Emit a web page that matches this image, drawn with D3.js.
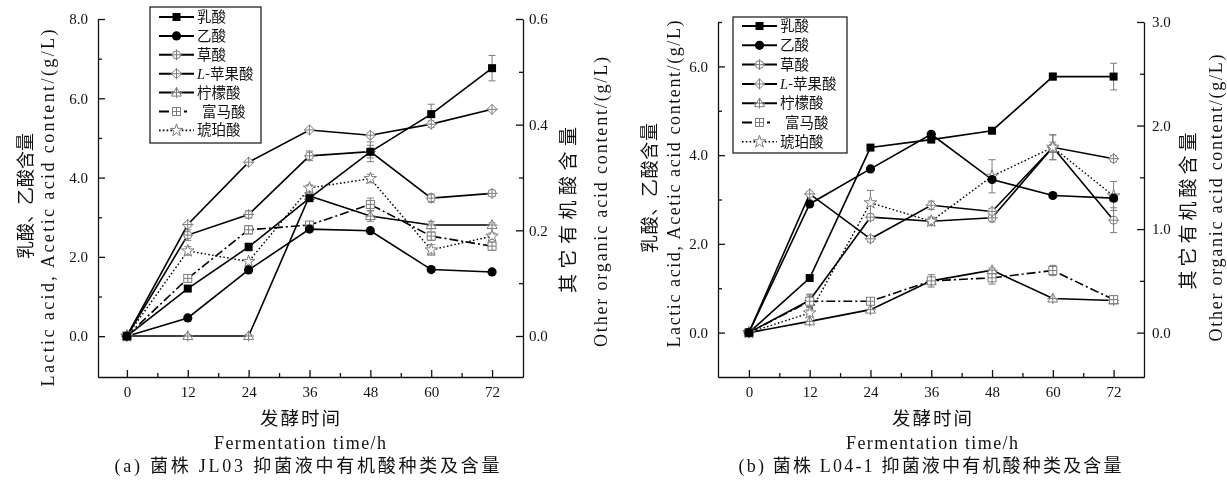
<!DOCTYPE html>
<html><head><meta charset="utf-8">
<script src="https://cdn.jsdelivr.net/npm/d3@7"></script>
<style>
body{margin:0;background:#fff}
svg{display:block;filter:grayscale(100%)}
text{font-family:'Liberation Serif','Noto Sans CJK SC',serif;fill:#111}
.cjk{font-family:'Noto Sans CJK SC',sans-serif}
</style>
</head><body><svg id="c" width="1227" height="490"></svg>
<script>
// ---------- data ----------
const times = [0, 12, 24, 36, 48, 60, 72];
const seriesNames = ["乳酸", "乙酸", "草酸", "L-苹果酸", "柠檬酸", "富马酸", "琥珀酸"];

// panel (a) strain JL03 — lactic & acetic on left axis (g/L), others on right axis
const aLactic      = [0, 1.20, 2.25, 3.48, 4.65, 5.60, 6.76];
const aLacticErr   = [0, 0.05, 0.10, 0.05, 0.25, 0.25, 0.32];
const aAcetic      = [0, 0.46, 1.67, 2.70, 2.66, 1.68, 1.62];
const aAceticErr   = [0, 0.02, 0.03, 0.03, 0.03, 0.03, 0.03];
const aOxalic      = [0, 0.191, 0.230, 0.341, 0.349, 0.261, 0.270];
const aOxalicErr   = [0, 0.010, 0.007, 0.009, 0.012, 0.008, 0.006];
const aMalic       = [0, 0.211, 0.329, 0.390, 0.380, 0.401, 0.429];
const aMalicErr    = [0, 0.004, 0.003, 0.003, 0.004, 0.006, 0.003];
const aCitric      = [0, 0, 0, 0.265, 0.227, 0.210, 0.210];
const aCitricErr   = [0, 0.003, 0.003, 0.005, 0.010, 0.007, 0.004];
const aFumaric     = [0, 0.109, 0.201, 0.210, 0.249, 0.189, 0.170];
const aFumaricErr  = [0, 0.006, 0.008, 0.006, 0.012, 0.008, 0.008];
const aSuccinic    = [0, 0.161, 0.141, 0.280, 0.298, 0.163, 0.189];
const aSuccinicErr = [0, 0.008, 0.004, 0.006, 0.008, 0.010, 0.006];

// panel (b) strain L04-1
const bLactic      = [0, 1.23, 4.17, 4.35, 4.55, 5.77, 5.77];
const bLacticErr   = [0, 0.03, 0.03, 0.04, 0.06, 0.08, 0.30];
const bAcetic      = [0, 2.90, 3.69, 4.47, 3.45, 3.09, 3.03];
const bAceticErr   = [0, 0.03, 0.03, 0.03, 0.03, 0.03, 0.03];
const bOxalic      = [0, 0.312, 1.115, 1.076, 1.109, 1.79, 1.086];
const bOxalicErr   = [0, 0.06, 0.03, 0.04, 0.04, 0.12, 0.12];
const bMalic       = [0, 1.34, 0.906, 1.23, 1.17, 1.79, 1.68];
const bMalicErr    = [0, 0.02, 0.03, 0.04, 0.03, 0.12, 0.03];
const bCitric      = [0, 0.109, 0.222, 0.50, 0.603, 0.329, 0.310];
const bCitricErr   = [0, 0.01, 0.01, 0.02, 0.02, 0.01, 0.01];
const bFumaric     = [0, 0.303, 0.303, 0.50, 0.529, 0.60, 0.319];
const bFumaricErr  = [0, 0.06, 0.02, 0.06, 0.06, 0.05, 0.02];
const bSuccinic    = [0, 0.19, 1.254, 1.076, 1.51, 1.79, 1.32];
const bSuccinicErr = [0, 0.03, 0.12, 0.03, 0.16, 0.05, 0.14];

const xTicks = [0, 12, 24, 36, 48, 60, 72];
const xMinor = [6, 18, 30, 42, 54, 66];
const aLeftTicks = [0, 2, 4, 6, 8], aLeftMinor = [1, 3, 5, 7];
const aRightTicks = [0, 0.2, 0.4, 0.6], aRightMinor = [0.1, 0.3, 0.5];
const bLeftTicks = [0, 2, 4, 6], bLeftMinor = [1, 3, 5, 7];
const bRightTicks = [0, 1, 2, 3], bRightMinor = [0.5, 1.5, 2.5];

const svg = d3.select('#c');
const GRAY = '#7c7c7c';
const markerKinds = ['sq', 'ci', 'cplus', 'dplus', 'tri', 'splus', 'star'];
const dashes = [null, null, null, null, null, '9,3,2,3', '1.6,2.2'];

function drawMarker(g, kind, cx, cy) {
  const s = g.append('g').attr('transform', `translate(${cx},${cy})`);
  const st = { stroke: GRAY, 'stroke-width': 1, fill: '#fff' };
  const apply = (el) => { for (const k in st) el.attr(k, st[k]); return el; };
  const cross = (r, h = true, v = true) => {
    if (h) s.append('line').attr('x1', -r).attr('x2', r).attr('y1', 0).attr('y2', 0).attr('stroke', GRAY).attr('stroke-width', 1);
    if (v) s.append('line').attr('x1', 0).attr('x2', 0).attr('y1', -r).attr('y2', r).attr('stroke', GRAY).attr('stroke-width', 1);
  };
  switch (kind) {
    case 'sq': s.append('rect').attr('x', -4).attr('y', -4).attr('width', 8).attr('height', 8).attr('fill', '#000'); break;
    case 'ci': s.append('circle').attr('r', 4.6).attr('fill', '#000'); break;
    case 'cplus': apply(s.append('circle').attr('r', 4)); cross(5.5); break;
    case 'dplus': apply(s.append('path').attr('d', 'M0,-5L5,0L0,5L-5,0Z')); cross(5.5); break;
    case 'tri': apply(s.append('path').attr('d', 'M0,-5L5,3.5L-5,3.5Z')); cross(5.5, true, true); break;
    case 'splus': apply(s.append('rect').attr('x', -4).attr('y', -4).attr('width', 8).attr('height', 8)); cross(4); break;
    case 'star': apply(s.append('path').attr('d', d3.symbol(d3.symbolStar, 48)())); break;
  }
}

function panel(cfg) {
  const x = d3.scaleLinear().domain(cfg.xDomain).range(cfg.xRange);
  const yL = d3.scaleLinear().domain(cfg.yLDomain).range(cfg.yRange);
  const yR = d3.scaleLinear().domain(cfg.yRDomain).range(cfg.yRange);
  const bottom = cfg.yRange[0];
  const g = svg.append('g');

  // axes
  const styleAxis = (a) => { a.selectAll('path,line').attr('stroke', '#111').attr('stroke-width', 1.3); a.selectAll('text').style('font-size', '15px').attr('fill', '#111'); };
  const xa = g.append('g').attr('transform', `translate(0,${bottom})`)
    .call(d3.axisBottom(x).tickValues(xTicks).tickSize(-7).tickSizeOuter(0).tickPadding(9).tickFormat(d3.format('d')));
  styleAxis(xa);
  const xm = g.append('g').attr('transform', `translate(0,${bottom})`)
    .call(d3.axisBottom(x).tickValues(xMinor).tickSize(-4).tickSizeOuter(0).tickFormat(''));
  styleAxis(xm); xm.select('.domain').remove();

  const la = g.append('g').attr('transform', `translate(${cfg.xRange[0]},0)`)
    .call(d3.axisLeft(yL).tickValues(cfg.leftTicks).tickSize(-7).tickSizeOuter(0).tickPadding(10).tickFormat(d3.format('.1f')));
  styleAxis(la);
  const lm = g.append('g').attr('transform', `translate(${cfg.xRange[0]},0)`)
    .call(d3.axisLeft(yL).tickValues(cfg.leftMinor).tickSize(-4).tickSizeOuter(0).tickFormat(''));
  styleAxis(lm); lm.select('.domain').remove();

  const ra = g.append('g').attr('transform', `translate(${cfg.xRange[1]},0)`)
    .call(d3.axisRight(yR).tickValues(cfg.rightTicks).tickSize(-7).tickSizeOuter(0).tickPadding(cfg.rightPad).tickFormat(d3.format('.1f')));
  styleAxis(ra);
  const rm = g.append('g').attr('transform', `translate(${cfg.xRange[1]},0)`)
    .call(d3.axisRight(yR).tickValues(cfg.rightMinor).tickSize(-4).tickSizeOuter(0).tickFormat(''));
  styleAxis(rm); rm.select('.domain').remove();

  // series
  const series = cfg.series;
  series.forEach((s, i) => {
    const y = s.axis === 'L' ? yL : yR;
    const line = d3.line().x((d, j) => x(times[j])).y(d => y(d));
    const p = g.append('path').attr('d', line(s.values)).attr('fill', 'none').attr('stroke', '#000')
      .attr('stroke-width', i === 6 ? 1.4 : 1.6);
    if (dashes[i]) p.attr('stroke-dasharray', dashes[i]);
  });
  series.forEach((s, i) => {
    const y = s.axis === 'L' ? yL : yR;
    s.values.forEach((v, j) => {
      const e = s.err[j]; if (!e) return;
      const cx = x(times[j]), y1 = y(v - e), y2 = y(v + e);
      if (Math.abs(y1 - y2) < 3) return;
      g.append('line').attr('x1', cx).attr('x2', cx).attr('y1', y1).attr('y2', y2).attr('stroke', GRAY).attr('stroke-width', 1);
      [y1, y2].forEach(yy => g.append('line').attr('x1', cx - 3.5).attr('x2', cx + 3.5).attr('y1', yy).attr('y2', yy).attr('stroke', GRAY).attr('stroke-width', 1));
    });
  });
  [2, 3, 4, 5, 6, 0, 1].forEach(i => {
    const s = series[i];
    const y = s.axis === 'L' ? yL : yR;
    s.values.forEach((v, j) => drawMarker(g, markerKinds[i], x(times[j]), y(v)));
  });

  // legend
  const L = cfg.legend;
  g.append('rect').attr('x', L.x).attr('y', L.y).attr('width', L.w).attr('height', L.h)
    .attr('fill', '#fff').attr('stroke', '#111').attr('stroke-width', 1.2);
  seriesNames.forEach((name, i) => {
    const yy = L.row0 + i * L.step;
    const x0 = L.x + 9, x1 = L.x + 44, xm = (x0 + x1) / 2;
    if (i === 5) {
      g.append('line').attr('x1', x0).attr('x2', x0 + 10).attr('y1', yy).attr('y2', yy).attr('stroke', '#000').attr('stroke-width', 2);
      g.append('line').attr('x1', x1 - 10).attr('x2', x1 - 7).attr('y1', yy).attr('y2', yy).attr('stroke', '#000').attr('stroke-width', 2);
    } else {
      const ln = g.append('line').attr('x1', x0).attr('x2', x1).attr('y1', yy).attr('y2', yy).attr('stroke', '#000').attr('stroke-width', 2);
      if (i === 6) ln.attr('stroke-dasharray', '1.6,2.2').attr('stroke-width', 1.6);
    }
    drawMarker(g, markerKinds[i], xm, yy);
    const t = g.append('text').attr('x', L.x + 47).attr('y', yy + 5).style('font-size', '14.5px');
    if (i === 3) {
      t.append('tspan').style('font-style', 'italic').text('L');
      t.append('tspan').attr('class', 'cjk').text('-苹果酸');
    } else if (i === 5) {
      t.attr('class', 'cjk').attr('x', L.x + 52).text('富马酸');
    } else t.attr('class', 'cjk').text(name);
  });

  // axis titles
  const T = cfg.titles;
  const vtext = (cx, cy, str, len, size, cls) => g.append('text').attr('class', cls || null)
    .attr('transform', `translate(${cx},${cy}) rotate(-90)`).attr('text-anchor', 'middle').attr('dy', '0.35em')
    .style('font-size', size + 'px').attr('textLength', len).attr('lengthAdjust', 'spacing').text(str);
  vtext(T.lcnX, T.lcnY, '乳酸、乙酸含量', T.lcnLen, 18, 'cjk');
  vtext(T.lenX, T.lenY, 'Lactic acid, Acetic acid content/(g/L)', T.lenLen, 18);
  vtext(T.rcnX, T.rcnY, '其它有机酸含量', T.rcnLen, 19, 'cjk');
  vtext(T.renX, T.renY, 'Other organic acid content/(g/L)', T.renLen, 18);
  g.append('text').attr('class', 'cjk').attr('x', T.xc).attr('y', 425).attr('text-anchor', 'middle').style('font-size', '18.5px')
    .attr('textLength', 80).attr('lengthAdjust', 'spacing').text('发酵时间');
  g.append('text').attr('x', T.xc).attr('y', 449).attr('text-anchor', 'middle').style('font-size', '18px')
    .attr('textLength', 172).attr('lengthAdjust', 'spacing').text('Fermentation time/h');
  g.append('text').attr('x', T.capX).attr('y', 472).attr('text-anchor', 'middle').style('font-size', '18px')
    .attr('textLength', T.capLen).attr('lengthAdjust', 'spacing').text(cfg.caption);
}

const mk = (vals, errs, axes) => vals.map((v, i) => ({ values: v, err: errs[i], axis: axes[i] }));
const axesSide = ['L', 'L', 'R', 'R', 'R', 'R', 'R'];

panel({
  xDomain: [-5.7, 78.1], xRange: [98, 523],
  yLDomain: [-1.03, 8], yRDomain: [-0.0776, 0.6], yRange: [377, 19],
  leftTicks: aLeftTicks, leftMinor: aLeftMinor, rightTicks: aRightTicks, rightMinor: aRightMinor, rightPad: 6,
  series: mk([aLactic, aAcetic, aOxalic, aMalic, aCitric, aFumaric, aSuccinic],
    [aLacticErr, aAceticErr, aOxalicErr, aMalicErr, aCitricErr, aFumaricErr, aSuccinicErr], axesSide),
  legend: { x: 150, y: 7, w: 111, h: 136, row0: 17, step: 18.9 },
  titles: { lcnX: 26, lcnY: 196, lcnLen: 126, lenX: 48, lenY: 208, lenLen: 357,
            rcnX: 568, rcnY: 210, rcnLen: 166, renX: 601, renY: 202, renLen: 290, xc: 300, capX: 307, capLen: 385 },
  caption: '(a) 菌株 JL03 抑菌液中有机酸种类及含量'
});

panel({
  xDomain: [-6.1, 78], xRange: [718, 1144],
  yLDomain: [-1, 7], yRDomain: [-3 / 7, 3], yRange: [377, 22],
  leftTicks: bLeftTicks, leftMinor: bLeftMinor, rightTicks: bRightTicks, rightMinor: bRightMinor, rightPad: 8,
  series: mk([bLactic, bAcetic, bOxalic, bMalic, bCitric, bFumaric, bSuccinic],
    [bLacticErr, bAceticErr, bOxalicErr, bMalicErr, bCitricErr, bFumaricErr, bSuccinicErr], axesSide),
  legend: { x: 733, y: 17, w: 114, h: 136, row0: 26, step: 19.3 },
  titles: { lcnX: 650, lcnY: 188, lcnLen: 130, lenX: 674, lenY: 184, lenLen: 327,
            rcnX: 1188, rcnY: 211, rcnLen: 157, renX: 1216, renY: 198, renLen: 287, xc: 932, capX: 930, capLen: 383 },
  caption: '(b) 菌株 L04-1 抑菌液中有机酸种类及含量'
});
</script>
</body></html>
